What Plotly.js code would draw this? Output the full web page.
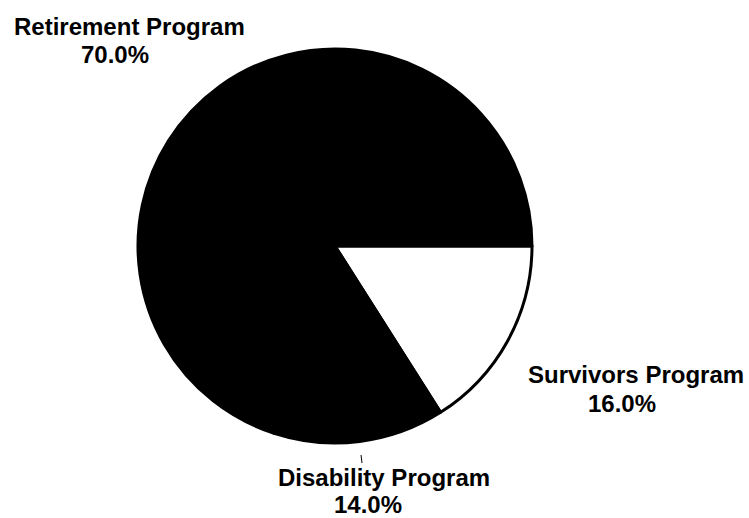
<!DOCTYPE html>
<html>
<head>
<meta charset="utf-8">
<script src="https://cdn.plot.ly/plotly-3.0.1.min.js"></script>
<style>html,body{margin:0;padding:0;background:#fff;}#chart{width:749px;height:518px;}</style>
</head>
<body>
<div id="chart"></div>
<script>
var programs = ["Survivors Program", "Disability Program", "Retirement Program"];
var shares = [16.0, 14.0, 70.0];
var sliceColors = ["#ffffff", "#000000", "#000000"];

var W = 749, H = 518;
// label placement (pixels): [name line center x, name line center y, pct center x, pct center y]
var labelPos = [
  [636, 374.5, 622, 403.5],
  [384, 477.7, 368, 504.6],
  [129.5, 26.5, 115.5, 54.5]
];

var cx = 335, cy = 246, r = 197;
var trace = {
  type: "pie",
  labels: programs,
  values: shares,
  sort: false,
  direction: "clockwise",
  rotation: 90,
  textinfo: "none",
  hoverinfo: "label+percent",
  marker: {colors: sliceColors, line: {color: "#000000", width: 3}},
  domain: {x: [(cx - r) / W, (cx + r) / W], y: [(H - cy - r) / H, (H - cy + r) / H]},
  showlegend: false
};

var font = {family: "Liberation Sans, Arial, Helvetica, sans-serif", size: 24, color: "#000000", weight: "bold"};
var annotations = [];
for (var i = 0; i < programs.length; i++) {
  annotations.push({xref: "paper", yref: "paper", x: labelPos[i][0] / W, y: 1 - labelPos[i][1] / H,
    xanchor: "center", yanchor: "middle", showarrow: false, borderpad: 0, text: "<b>" + programs[i] + "</b>", font: font});
  annotations.push({xref: "paper", yref: "paper", x: labelPos[i][2] / W, y: 1 - labelPos[i][3] / H,
    xanchor: "center", yanchor: "middle", showarrow: false, borderpad: 0, text: "<b>" + shares[i].toFixed(1) + "%</b>", font: font});
}

var layout = {
  width: W, height: H,
  margin: {l: 0, r: 0, t: 0, b: 0},
  paper_bgcolor: "#ffffff",
  plot_bgcolor: "#ffffff",
  annotations: annotations,
  shapes: [
    {type: "line", xref: "paper", yref: "paper", x0: 361 / W, x1: 362 / W, y0: 1 - 455 / H, y1: 1 - 463 / H,
     line: {color: "#000000", width: 1}}
  ]
};

Plotly.newPlot("chart", [trace], layout, {displayModeBar: false, staticPlot: true});
</script>
</body>
</html>
